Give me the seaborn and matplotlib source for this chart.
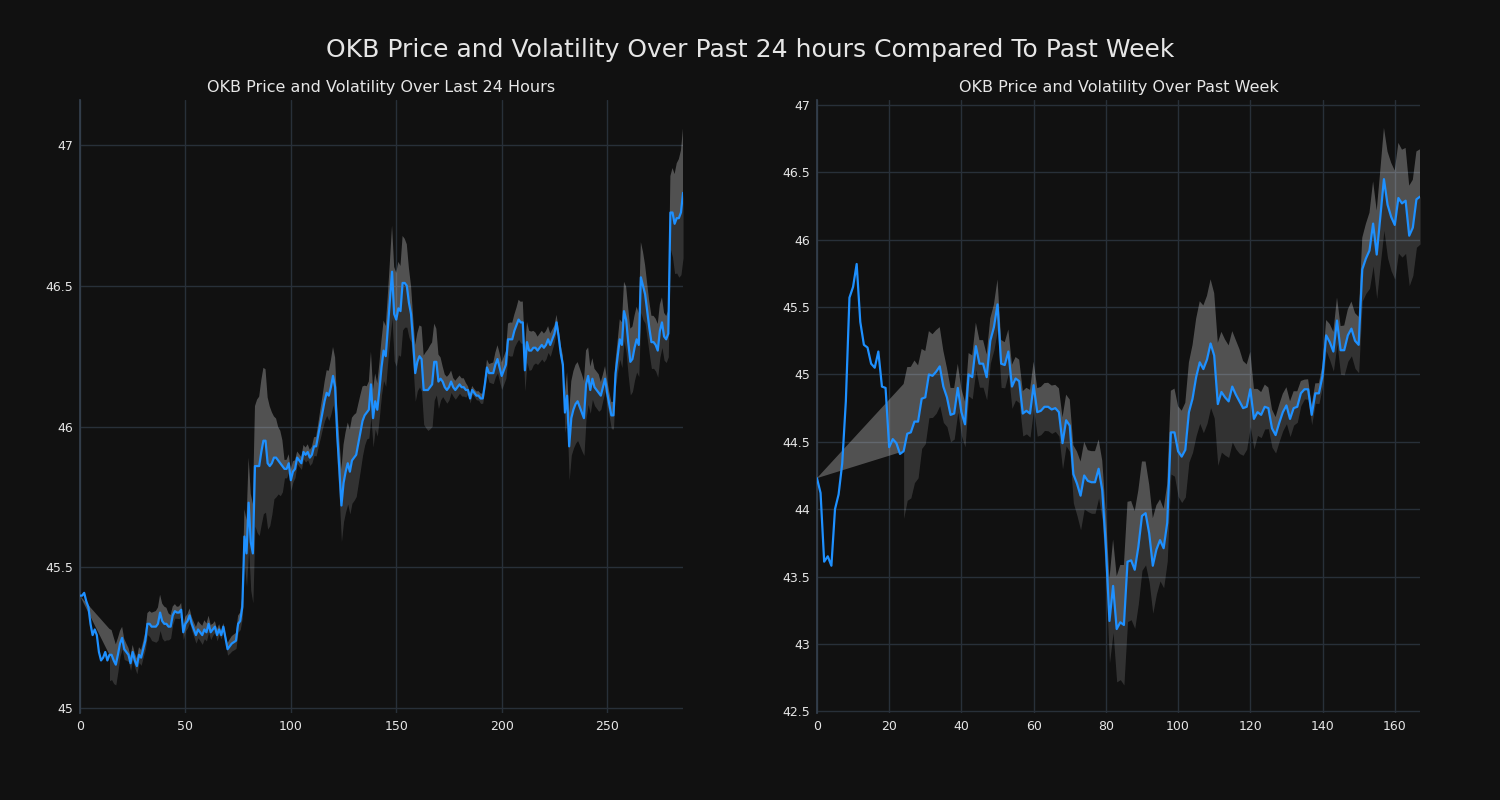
import numpy as np
import pandas as pd
import matplotlib
matplotlib.use("Agg")
import matplotlib.pyplot as plt
from matplotlib.ticker import FuncFormatter, MultipleLocator
import seaborn as sns

# ---------------- data ----------------
day_prices = [
    45.40, 45.40, 45.41, 45.38, 45.36, 45.30, 45.26, 45.28, 45.26, 45.20,
    45.17, 45.18, 45.20, 45.17, 45.19, 45.19, 45.17, 45.155, 45.19, 45.23,
    45.25, 45.21, 45.20, 45.19, 45.16, 45.20, 45.17, 45.15, 45.19, 45.18,
    45.21, 45.24, 45.30, 45.30, 45.29, 45.29, 45.29, 45.30, 45.34, 45.31,
    45.30, 45.30, 45.29, 45.29, 45.33, 45.345, 45.34, 45.34, 45.35, 45.27,
    45.30, 45.31, 45.33, 45.30, 45.28, 45.26, 45.28, 45.27, 45.26, 45.28,
    45.27, 45.30, 45.27, 45.28, 45.29, 45.26, 45.28, 45.26, 45.29, 45.25,
    45.21, 45.22, 45.23, 45.235, 45.24, 45.30, 45.31, 45.36, 45.61, 45.55,
    45.73, 45.59, 45.55, 45.86, 45.86, 45.86, 45.91, 45.95, 45.95, 45.87,
    45.86, 45.87, 45.89, 45.89, 45.88, 45.87, 45.86, 45.85, 45.85, 45.87,
    45.81, 45.84, 45.85, 45.89, 45.88, 45.87, 45.91, 45.90, 45.91, 45.89,
    45.90, 45.93, 45.93, 45.97, 46.01, 46.05, 46.09, 46.12, 46.11, 46.14,
    46.18, 46.14, 45.97, 45.85, 45.72, 45.80, 45.84, 45.87, 45.84, 45.88,
    45.89, 45.90, 45.94, 45.98, 46.02, 46.04, 46.05, 46.06, 46.15, 46.03,
    46.09, 46.06, 46.13, 46.21, 46.27, 46.25, 46.35, 46.45, 46.55, 46.40,
    46.38, 46.42, 46.41, 46.51, 46.51, 46.50, 46.44, 46.40, 46.30, 46.19,
    46.23, 46.25, 46.24, 46.13, 46.13, 46.13, 46.14, 46.15, 46.23, 46.23,
    46.16, 46.17, 46.16, 46.14, 46.13, 46.14, 46.16, 46.14, 46.13, 46.14,
    46.15, 46.14, 46.14, 46.13, 46.13, 46.10, 46.13, 46.12, 46.11, 46.11,
    46.10, 46.10, 46.15, 46.21, 46.19, 46.19, 46.19, 46.22, 46.24, 46.21,
    46.18, 46.20, 46.22, 46.31, 46.31, 46.31, 46.34, 46.36, 46.38, 46.37,
    46.37, 46.20, 46.30, 46.27, 46.27, 46.28, 46.28, 46.27, 46.28, 46.29,
    46.28, 46.29, 46.31, 46.29, 46.31, 46.33, 46.37, 46.32, 46.26, 46.22,
    46.05, 46.11, 45.93, 46.03, 46.06, 46.08, 46.09, 46.07, 46.05, 46.03,
    46.15, 46.18, 46.13, 46.17, 46.14, 46.13, 46.12, 46.11, 46.14, 46.17,
    46.12, 46.08, 46.04, 46.04, 46.19, 46.25, 46.31, 46.29, 46.41, 46.38,
    46.30, 46.23, 46.24, 46.28, 46.31, 46.29, 46.53, 46.50, 46.47, 46.41,
    46.35, 46.30, 46.30, 46.29, 46.27, 46.34, 46.37, 46.32, 46.31, 46.33,
    46.76, 46.76, 46.72, 46.74, 46.74, 46.76, 46.83,
]

week_prices = [
    44.23, 44.12, 43.61, 43.65, 43.58, 44.00, 44.11, 44.34, 44.80, 45.57,
    45.65, 45.82, 45.39, 45.22, 45.20, 45.08, 45.05, 45.17, 44.91, 44.90,
    44.46, 44.52, 44.49, 44.41, 44.43, 44.56, 44.57, 44.65, 44.65, 44.82,
    44.83, 45.00, 44.99, 45.02, 45.06, 44.91, 44.83, 44.70, 44.71, 44.90,
    44.72, 44.63, 45.00, 44.98, 45.21, 45.08, 45.08, 44.98, 45.25, 45.35,
    45.52, 45.08, 45.07, 45.17, 44.91, 44.97, 44.95, 44.71, 44.73, 44.71,
    44.92, 44.72, 44.73, 44.76, 44.76, 44.74, 44.75, 44.72, 44.49, 44.66,
    44.62, 44.26, 44.19, 44.10, 44.25, 44.21, 44.20, 44.20, 44.30, 44.14,
    43.72, 43.17, 43.43, 43.11, 43.16, 43.14, 43.61, 43.62, 43.55, 43.72,
    43.95, 43.97, 43.82, 43.58, 43.70, 43.77, 43.71, 43.90, 44.57, 44.57,
    44.43, 44.39, 44.44, 44.72, 44.82, 44.98, 45.09, 45.04, 45.11, 45.23,
    45.14, 44.78, 44.87, 44.83, 44.80, 44.91, 44.85, 44.80, 44.75, 44.76,
    44.89, 44.67, 44.72, 44.70, 44.76, 44.75, 44.60, 44.55, 44.64, 44.72,
    44.77, 44.67, 44.75, 44.76, 44.86, 44.89, 44.89, 44.70, 44.86, 44.86,
    44.99, 45.29, 45.24, 45.17, 45.40, 45.18, 45.18, 45.29, 45.34, 45.25,
    45.22, 45.78, 45.86, 45.92, 46.12, 45.89, 46.17, 46.45, 46.26, 46.17,
    46.11, 46.31, 46.27, 46.29, 46.03, 46.09, 46.30, 46.32,
]

day_window, day_vol_scale = 15, 1.0
week_window, week_vol_scale = 25, 0.78

suptitle_text = "OKB Price and Volatility Over Past 24 hours Compared To Past Week"
day_title = "OKB Price and Volatility Over Last 24 Hours"
week_title = "OKB Price and Volatility Over Past Week"

# ---------------- style ----------------
BG = "#111111"
GRID = "#283039"
TEXT = "#e6e6e6"
LINE = "#1e90ff"

sns.set_theme(style="dark", rc={
    "figure.facecolor": BG,
    "axes.facecolor": BG,
    "axes.edgecolor": "#34404d",
    "axes.labelcolor": TEXT,
    "text.color": TEXT,
    "xtick.color": TEXT,
    "ytick.color": TEXT,
    "grid.color": GRID,
    "axes.grid": True,
    "grid.linewidth": 1.0,
})
plt.rcParams["font.family"] = ["DejaVu Sans"]

fig, axes = plt.subplots(1, 2, figsize=(15, 8), dpi=100)
fig.subplots_adjust(left=0.0533, right=0.9467, bottom=0.109, top=0.875, wspace=0.222)


def draw(ax, prices, window, scale, title):
    s = pd.Series(prices, dtype=float)
    x = np.arange(len(s), dtype=float)
    vol = s.rolling(window).std() * scale
    v = window - 1                      # first index with a volatility value
    p = s.to_numpy()
    upper = (s + vol).to_numpy()
    lower = (s - vol).to_numpy()
    # upper half of the band: price -> price + vol, joined back to the first price
    xs = np.concatenate([x[v:], x[v:][::-1], x[:1]])
    ys = np.concatenate([upper[v:], p[v:][::-1], p[:1]])
    ax.fill(xs, ys, color="white", alpha=0.27, lw=0, zorder=1)
    # lower half of the band: price - vol -> price
    ax.fill_between(x, lower, p, color="white", alpha=0.14, lw=0, zorder=1)
    sns.lineplot(x=x, y=p, ax=ax, color=LINE, linewidth=1.6, zorder=3)
    ax.margins(x=0)
    ax.set_xlim(0, len(s) - 1)
    ax.set_title(title, fontsize=11.5, color=TEXT, pad=6)
    ax.yaxis.set_major_locator(MultipleLocator(0.5))
    ax.yaxis.set_major_formatter(FuncFormatter(lambda val, pos: f"{val:g}"))
    ax.tick_params(axis="both", labelsize=9, length=0, pad=5, colors=TEXT)
    ax.grid(True, color=GRID, linewidth=1.0)
    ax.set_axisbelow(True)
    for side in ("top", "right", "bottom"):
        ax.spines[side].set_visible(False)
    ax.spines["left"].set_color("#34404d")
    ax.set_xlabel("")
    ax.set_ylabel("")


draw(axes[0], day_prices, day_window, day_vol_scale, day_title)
draw(axes[1], week_prices, week_window, week_vol_scale, week_title)

fig.suptitle(suptitle_text, fontsize=18, color=TEXT, y=0.9375, va="center")

fig.savefig("out.png", dpi=100, facecolor=BG)
